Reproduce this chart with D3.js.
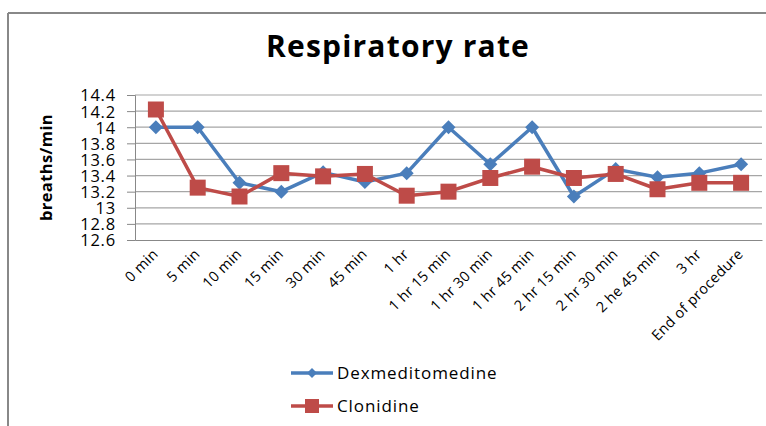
<!DOCTYPE html>
<html>
<head>
<meta charset="utf-8">
<script src="https://cdn.jsdelivr.net/npm/d3@7"></script>
<style>
	body { margin: 0; background: #fff; }
	text { font-family: "Open Sans", sans-serif; fill: #000; }
</style>
</head>
<body>
<script>
// values
let categories = ['0 min', '5 min', '10 min', '15 min', '30 min', '45 min', '1 hr', '1 hr 15 min',
	'1 hr 30 min', '1 hr 45 min', '2 hr 15 min', '2 hr 30 min', '2 he 45 min', '3 hr', 'End of procedure']
let dexValues = [14.0, 14.0, 13.31, 13.2, 13.44, 13.32, 13.43, 14.0, 13.54, 14.0, 13.14, 13.48, 13.38, 13.43, 13.54]
let cloValues = [14.22, 13.25, 13.14, 13.43, 13.39, 13.42, 13.15, 13.2, 13.37, 13.51, 13.37, 13.42, 13.23, 13.31, 13.31]
let yTicks = [12.6, 12.8, 13, 13.2, 13.4, 13.6, 13.8, 14, 14.2, 14.4]

let W = 766, H = 426
let plot = {x0: 135, x1: 762, y0: 95, y1: 240}
let font = '"Open Sans", sans-serif'

let svg = d3.select('body').append('svg')
	.attr('width', W).attr('height', H)

// frame (only top and left visible in the crop)
svg.append('line')
	.attr('x1', 8).attr('x2', 766).attr('y1', 13).attr('y2', 13)
	.attr('stroke', '#888').attr('stroke-width', 2)
svg.append('line')
	.attr('x1', 8).attr('x2', 8).attr('y1', 13).attr('y2', H)
	.attr('stroke', '#888').attr('stroke-width', 2)

svg.append('text')
	.attr('x', 398).attr('y', 57)
	.attr('text-anchor', 'middle')
	.style('font-size', '30px').style('font-weight', 'bold')
	.style('letter-spacing', '1.2px')
	.text('Respiratory rate')

let x = d3.scaleBand().domain(categories).range([plot.x0, plot.x1])
let y = d3.scaleLinear().domain([12.6, 14.4]).range([plot.y1, plot.y0])

// gridlines
svg.append('g').selectAll('line').data(yTicks.slice(1)).join('line')
	.attr('x1', plot.x0).attr('x2', plot.x1)
	.attr('y1', d => y(d)).attr('y2', d => y(d))
	.attr('stroke', '#a6a6a6').attr('stroke-width', 1.2)

// y axis
let yAxis = svg.append('g')
	.attr('transform', `translate(${plot.x0},0)`)
	.call(d3.axisLeft(y).tickValues(yTicks).tickSize(8).tickPadding(11).tickFormat(d3.format('~g')))
yAxis.select('.domain').attr('stroke', '#888')
yAxis.selectAll('.tick line').attr('stroke', '#888')
yAxis.selectAll('.tick text')
	.style('font-size', '16.5px').style('font-family', font).attr('fill', '#000')
	.style('letter-spacing', '0.8px')
	.attr('dy', '0.36em')

// x axis
let xAxis = svg.append('g')
	.attr('transform', `translate(0,${plot.y1})`)
	.call(d3.axisBottom(x).tickSize(0).tickPadding(0))
xAxis.select('.domain').attr('stroke', '#888')
xAxis.selectAll('.tick text')
	.style('font-size', '14.5px').style('font-family', font).attr('fill', '#000')
	.style('letter-spacing', '0.3px')
	.attr('text-anchor', 'end')
	.attr('dy', 0)
	.attr('transform', 'translate(3,15) rotate(-45)')

svg.append('text')
	.attr('transform', `translate(52,${(plot.y0 + plot.y1) / 2 + 0}) rotate(-90)`)
	.attr('text-anchor', 'middle')
	.style('font-size', '16.5px').style('font-weight', 'bold')
	.style('letter-spacing', '0.4px')
	.text('breaths/min')

let cx = d => x(d) + x.bandwidth() / 2
let line = d3.line().x(d => cx(d[0])).y(d => y(d[1]))

let series = [
	{name: 'Dexmeditomedine', values: dexValues, color: '#4a7ebb', shape: 'diamond'},
	{name: 'Clonidine', values: cloValues, color: '#be4b48', shape: 'square'}
]

let diamond = 'M0,-7L7,0L0,7L-7,0Z'
let square = 'M-8,-8H8V8H-8Z'

series.forEach(s => {
	let pts = categories.map((c, i) => [c, s.values[i]])
	svg.append('path')
		.datum(pts)
		.attr('d', line)
		.attr('fill', 'none')
		.attr('stroke', s.color).attr('stroke-width', 3.5)
		.attr('stroke-linejoin', 'round')
	svg.append('g').selectAll('path').data(pts).join('path')
		.attr('transform', d => `translate(${cx(d[0])},${y(d[1])})`)
		.attr('d', s.shape == 'diamond' ? diamond : square)
		.attr('fill', s.color)
})

// legend
let legend = svg.append('g')
series.forEach((s, i) => {
	let ly = 373 + i * 33
	legend.append('line')
		.attr('x1', 291).attr('x2', 333).attr('y1', ly).attr('y2', ly)
		.attr('stroke', s.color).attr('stroke-width', 3.5)
	legend.append('path')
		.attr('transform', `translate(312,${ly})`)
		.attr('d', s.shape == 'diamond' ? 'M0,-5L5,0L0,5L-5,0Z' : 'M-7,-7H7V7H-7Z')
		.attr('fill', s.color)
	legend.append('text')
		.attr('x', 337).attr('y', ly + 6)
		.style('font-size', '17px')
		.style('letter-spacing', '0.9px')
		.text(s.name)
})
</script>
</body>
</html>
